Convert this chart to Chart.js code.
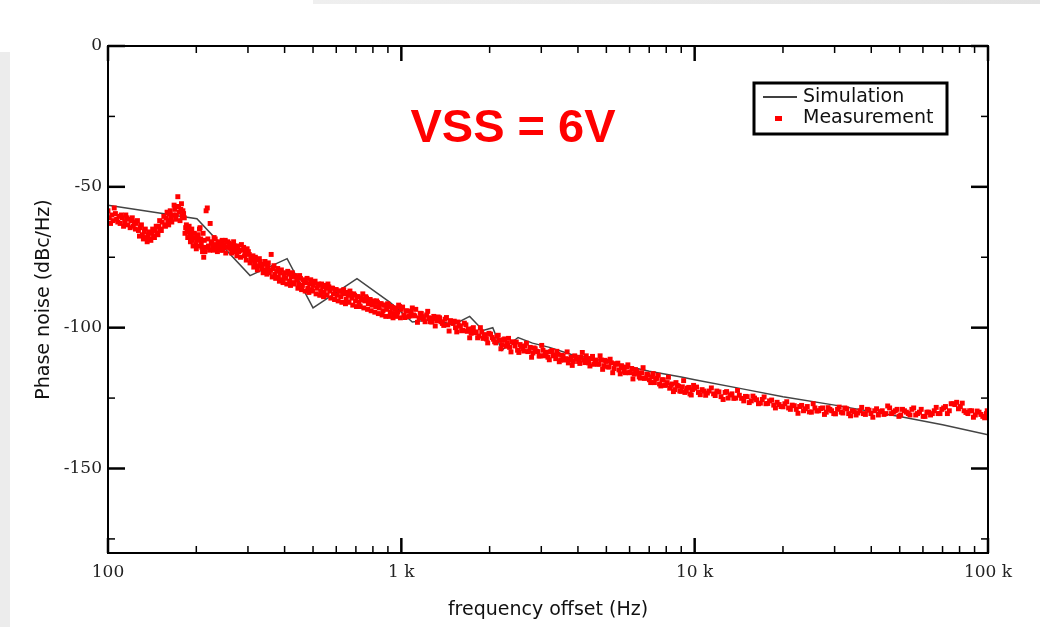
<!DOCTYPE html>
<html>
<head>
<meta charset="utf-8">
<script src="https://cdn.jsdelivr.net/npm/chart.js@4.4.1/dist/chart.umd.min.js"></script>
<style>
    html, body { margin: 0; padding: 0; background: #fff; overflow: hidden; }
    #wrap { position: relative; width: 1040px; height: 627px; }
    .stripLeft { position: absolute; left: 0; top: 52px; width: 10px; height: 575px; background: #ececec; }
    .stripTop { position: absolute; left: 313px; top: 0; width: 727px; height: 4px; background: linear-gradient(to right, #efefef, #e3e3e3); }
    canvas { position: absolute; left: 0; top: 0; }
</style>
</head>
<body>
<div id="wrap">
    <div class="stripLeft"></div>
    <div class="stripTop"></div>
    <canvas id="noiseChart" width="1040" height="627"></canvas>
</div>
<script>
// Simulation curve (Hz, dBc/Hz)
const simFreq = [100, 201, 305, 408, 500, 706, 915, 1000, 1090, 1300, 1500, 1710, 1900, 2050, 2200,
    2500, 2800, 3200, 3800, 4500, 5500, 7000, 9000, 10000, 15000, 20000, 30000, 50000, 70000, 100000];
const simDb = [-56.5, -61.3, -81.5, -75.5, -93, -82.6, -91, -94.5, -98, -97, -99, -96, -101, -100, -108,
    -103.5, -105.5, -107, -109.5, -111, -113, -115.5, -117.5, -118.5, -122, -124.5, -127.5, -131.5, -134.5, -138];

// Measurement points (Hz, dBc/Hz), first pass
const measFreq = [
    100, 101, 103, 104, 106, 107, 109, 110, 112, 114, 115, 117, 118, 120, 122, 123, 125, 127, 129, 131,
    133, 135, 137, 139, 141, 143, 145, 147, 149, 151, 153, 156, 158, 160, 162, 164, 167, 169, 170, 172,
    173, 175, 177, 179, 180, 182, 184, 186, 188, 190, 192, 194, 196, 199, 201, 203, 205, 207, 209, 211,
    212, 214, 216, 218, 220, 223, 225, 228, 230, 233, 235, 237, 240, 243, 246, 249, 251, 254, 258, 262,
    266, 270, 273, 277, 281, 285, 290, 294, 298, 303, 307, 312, 316, 320, 325, 330, 335, 340, 345, 350,
    355, 360, 365, 370, 376, 381, 387, 392, 398, 404, 410, 416, 422, 428, 434, 440, 447, 453, 460, 467,
    473, 480, 487, 494, 501, 508, 516, 523, 531, 539, 546, 554, 562, 570, 579, 587, 596, 604, 613, 622,
    631, 640, 649, 659, 668, 678, 688, 698, 708, 718, 729, 739, 750, 761, 772, 783, 794, 806, 818, 829,
    841, 854, 866, 879, 891, 904, 917, 930, 944, 958, 972, 986,
    1000, 1020, 1040, 1060, 1080, 1100, 1120, 1150, 1170, 1190, 1220, 1240, 1270, 1290, 1320, 1350, 1380, 1410, 1440, 1470,
    1500, 1530, 1560, 1590, 1620, 1660, 1690, 1730, 1760, 1800, 1840, 1880, 1920, 1950, 1990, 2040, 2080, 2120, 2160, 2210,
    2250, 2300, 2340, 2390, 2440, 2490, 2540, 2590, 2640, 2700, 2750, 2810, 2860, 2920, 2980, 3040, 3100, 3160, 3230, 3290,
    3360, 3420, 3490, 3560, 3640, 3710, 3790, 3860, 3940, 4020, 4100, 4180, 4270, 4350, 4440, 4530, 4620, 4710, 4810, 4900,
    5000, 5100, 5200, 5310, 5420, 5520, 5630, 5750, 5860, 5980, 6100, 6220, 6350, 6470, 6600, 6740, 6870, 7010, 7150, 7290,
    7440, 7590, 7740, 7900, 8060, 8220, 8380, 8550, 8720, 8900, 9080, 9260, 9450, 9640, 9830,
    10000, 10300, 10600, 10900, 11200, 11600, 11900, 12300, 12700, 13000, 13400, 13800, 14200, 14700, 15100, 15600, 16000, 16500, 17000, 17500,
    18000, 18600, 19100, 19700, 20300, 20900, 21500, 22200, 22800, 23500, 24200, 25000, 25700, 26500, 27300, 28100, 28900, 29800, 30700, 31600,
    32500, 33500, 34500, 35500, 36600, 37600, 38800, 39900, 41100, 42300, 43600, 44900, 46200, 47600, 49000, 50400, 51900, 53500, 55000, 56700,
    58400, 60100, 61900, 63700, 65600, 67600, 69600, 71600, 73800, 76000, 78200, 80500, 82900, 85400, 87900, 90500, 93200, 96000, 98800, 100000
];
const measDb = [
    -58.5, -61, -60, -62, -59.5, -61.5, -60.5, -63, -61, -62.5, -60, -63.5, -61.5, -62, -64, -62.5, -63, -65.5, -64.5, -67,
    -66, -68, -67, -68.5, -66.5, -67.5, -65.5, -66.5, -64, -65, -62.5, -63.5, -61, -62, -59.5, -61, -60, -58, -61.5, -57,
    -53.5, -59, -58, -60.5, -58.5, -61, -64.5, -66, -65, -67.5, -66.5, -69, -68, -70.5, -69, -67, -65, -68.5, -71.5, -66.5,
    -75, -73, -58.5, -57.5, -71, -63, -69.5, -71, -68, -70.5, -72, -69.5, -71.5, -70, -72.5, -70.5, -69, -71.5, -70, -72,
    -70.5, -71, -73, -71, -72.5, -70.5, -71.5, -73.5, -72, -74, -75.5, -74.5, -77, -76, -78, -76.5, -79, -77.5, -79.5, -78,
    -80.5, -74, -79, -81, -80, -82, -80.5, -83, -81.5, -82.5, -80, -83.5, -82, -84, -81.5, -83, -84.5, -82.5, -85, -83.5,
    -84, -86, -84.5, -86.5, -85, -83.5, -86, -84.5, -87, -85.5, -87.5, -86, -84.5, -87, -86, -88, -86.5, -88.5, -87, -89,
    -87.5, -88, -90, -88.5, -87, -89.5, -88, -90.5, -89, -91, -89.5, -88, -90.5, -89.5, -91.5, -90, -92, -90.5, -92.5, -91,
    -93, -91.5, -94, -92, -93.5, -92, -94.5, -93, -95, -93, -94.5, -92.5,
    -93.5, -95.5, -94, -96, -94.5, -95.5, -93.5, -96.5, -95, -97, -95.5, -96.5, -98, -96, -97.5, -96.5, -98.5, -97, -99, -97.5,
    -98.5, -100, -98, -99.5, -101, -99, -100.5, -102, -100, -101.5, -103, -101.5, -102.5, -104, -102, -103.5, -105, -103, -104.5, -106,
    -104, -105.5, -107, -105, -106.5, -108, -106, -107.5, -106.5, -108.5, -107, -109, -107.5, -108.5, -110, -108, -109.5, -110.5, -108.5, -110,
    -111, -109.5, -111.5, -110, -111, -112.5, -110.5, -112, -110.5, -112, -110.5, -111.5, -110, -112.5, -111, -113, -111.5, -113, -111.5, -113.5,
    -112, -114, -112.5, -114.5, -113, -115, -113.5, -115.5, -114, -116, -114.5, -116.5, -115.5, -117.5, -116, -118, -116.5, -118.5, -117.5, -119.5,
    -118, -120, -118.5, -120.5, -119.5, -121.5, -120, -122, -120.5, -122.5, -121, -123, -121.5, -123.5, -122,
    -121.5, -123, -122, -124, -122.5, -123.5, -122.5, -124.5, -123, -125, -123.5, -125, -124, -126, -124.5, -126, -125, -127, -125.5, -127,
    -126, -127.5, -126.5, -128, -127, -128.5, -127.5, -129, -128, -129.5, -128, -130, -128.5, -129.5, -128.5, -130, -129, -130.5, -129, -130,
    -128.5, -130.5, -129.5, -131, -129.5, -130.5, -129, -130.5, -129.5, -131, -129.5, -130.5, -128.5, -130, -129, -131, -129.5, -130.5, -129, -131,
    -130, -131.5, -130, -131, -129.5, -130.5, -129, -128, -129.5, -127, -126.5, -128, -129.5, -130.5, -129.5, -131, -130, -131.5, -130.5, -131.5
];

// Measurement points, second pass (fills the noisy band)
const measFreqB = [
    102, 105, 108, 111, 113, 116, 119, 121, 124, 126, 128, 130, 132, 134, 136, 138, 140, 142, 144, 146,
    148, 150, 152, 155, 157, 159, 161, 163, 165, 168, 171, 174, 176, 178, 181, 183, 185, 187, 189, 191,
    193, 195, 197, 200, 202, 204, 206, 208, 210, 213, 215, 219, 222, 226, 229, 232, 236, 239, 242, 245,
    248, 252, 256, 260, 264, 268, 272, 275, 279, 283, 288, 292, 296, 301, 305, 310, 314, 318, 323, 328,
    332, 338, 343, 348, 352, 358, 363, 368, 373, 379, 384, 390, 395, 401, 407, 413, 419, 425, 431, 437,
    444, 450, 457, 463, 470, 477, 484, 491, 498, 505, 512, 520, 527, 535, 543, 550, 558, 566, 575, 583,
    592, 600, 609, 618, 627, 636, 645, 654, 663, 673, 683, 693, 703, 713, 724, 734, 745, 756, 767, 778,
    789, 800, 812, 823, 835, 847, 860, 872, 885, 898, 911, 924, 937, 951, 965, 979, 993,
    1010, 1030, 1050, 1070, 1090, 1110, 1135, 1160, 1180, 1205, 1230, 1255, 1280, 1305, 1335, 1365, 1395, 1425, 1455, 1485,
    1515, 1545, 1575, 1605, 1640, 1675, 1710, 1745, 1780, 1820, 1860, 1900, 1935, 1970, 2015, 2060, 2100, 2140, 2185, 2230,
    2275, 2320, 2365, 2415, 2465, 2515, 2565, 2615, 2670, 2725, 2780, 2835, 2890, 2950, 3010, 3070, 3130, 3195, 3260, 3325,
    3390, 3455, 3525, 3600, 3675, 3750, 3825, 3900, 3980, 4060, 4140, 4225, 4310, 4395, 4485, 4575, 4665, 4760, 4855, 4950,
    5050, 5150, 5255, 5365, 5470, 5575, 5690, 5805, 5920, 6040, 6160, 6285, 6410, 6535, 6670, 6805, 6940, 7080, 7220, 7365,
    7515, 7665, 7820, 7980, 8140, 8300, 8465, 8635, 8810, 8990, 9170, 9355, 9545, 9735, 9915,
    10150, 10450, 10750, 11050, 11400, 11750, 12100, 12500, 12850, 13200, 13600, 14000, 14450, 14900, 15350, 15800, 16250, 16750, 17250, 17750,
    18300, 18850, 19400, 20000, 20600, 21200, 21850, 22500, 23150, 23850, 24600, 25350, 26100, 26900, 27700, 28500, 29300, 30200, 31100, 32000,
    33000, 34000, 35000, 36000, 37100, 38200, 39300, 40500, 41700, 42900, 44200, 45500, 46900, 48300, 49700, 51100, 52700, 54200, 55800, 57500,
    59200, 61000, 62800, 64600, 66600, 68600, 70600, 72700, 74900, 77100, 79300, 81700, 84100, 86600, 89200, 91800, 94600, 97400, 99400
];
const measDbB = [
    -63, -57.5, -62.5, -60, -64, -61, -64.5, -61, -65, -62, -67.5, -63.5, -68.5, -65, -69.5, -66, -69, -65, -68, -64,
    -67, -62, -65.5, -60.5, -64, -59, -63.5, -58.5, -62.5, -56.5, -60, -57, -62, -56, -59.5, -66.5, -63.5, -68, -64, -69.5,
    -65, -71, -66.5, -72, -67.5, -71, -64.5, -70, -73, -69, -71.5, -68.5, -72.5, -70, -72.5, -68.5, -73, -70, -72.5, -69,
    -71, -73.5, -69.5, -71.5, -73.5, -69.5, -72.5, -74.5, -73, -75, -72.5, -74.5, -76, -73, -77, -76, -78.5, -75, -79.5, -75.5,
    -78, -80.5, -76.5, -81, -77, -79.5, -82, -78, -82.5, -79, -83.5, -79.5, -84, -80.5, -84.5, -81, -85, -80.5, -84.5, -82,
    -86, -81.5, -86.5, -83, -87, -82.5, -87.5, -83, -87, -84, -88, -85, -88.5, -84.5, -89, -85, -88.5, -85.5, -89.5, -86,
    -90, -86.5, -90.5, -87, -91, -86.5, -91.5, -87.5, -91, -88, -92, -88.5, -92.5, -89, -92.5, -90, -93, -89, -93.5, -90.5,
    -94, -91, -94.5, -90.5, -95, -91.5, -95.5, -92, -96, -91.5, -96, -92.5, -96.5, -93.5, -96, -92, -96.5,
    -92.7, -96.4, -94.1, -95.8, -93, -95.8, -98.1, -94.9, -96.1, -97.9, -94.2, -97.9, -96.7, -99.4, -96.2, -97.9, -99.2, -96.4, -101.2, -97.9,
    -97.7, -101.5, -99.3, -101.1, -98.4, -101.3, -103.6, -100.4, -101.8, -103.6, -100, -103.8, -102.6, -105.4, -102.3, -104.1, -105.4, -102.7, -107.5, -104.3,
    -106.6, -103.8, -108.6, -105.3, -105.1, -108.8, -106.6, -108.3, -105.5, -108.3, -110.5, -107.2, -108.4, -110.1, -106.3, -110, -108.7, -111.4, -108.1, -109.7,
    -108.4, -112.1, -109.8, -111.5, -108.6, -111.3, -113.4, -110, -111.1, -112.7, -108.8, -112.4, -111, -113.6, -110.2, -111.8, -112.9, -110, -114.8, -111.6,
    -113.9, -111.2, -116, -112.8, -112.6, -116.4, -114.2, -116, -113.2, -115.9, -118.2, -114.9, -116.2, -117.9, -114.2, -117.9, -116.7, -119.5, -116.3, -118.1,
    -116.9, -120.7, -118.5, -120.3, -117.6, -120.4, -122.7, -119.5, -120.8, -122.6, -118.8, -122.5, -121.2, -123.9, -120.5,
    -121.1, -123.8, -122.5, -123.2, -121.4, -124.1, -122.8, -125.5, -122.7, -123.9, -125.1, -122.3, -125.1, -124.4, -126.6, -124.3, -125.6, -126.8, -124.6, -126.9,
    -125.7, -128.5, -127.3, -128.1, -126.3, -129, -127.7, -130.4, -127.6, -128.8, -129.9, -127, -129.6, -128.7, -130.8, -128.4, -129.5, -130.6, -128.2, -130.3,
    -128.8, -131.3, -129.8, -130.3, -128.3, -130.8, -129.3, -131.8, -128.8, -129.8, -130.8, -127.8, -130.5, -129.5, -131.5, -129, -130, -131, -128.5, -130.5,
    -129, -131.5, -130, -130.5, -128.3, -130.5, -128.5, -130.5, -127, -127.3, -128.8, -126.8, -130.1, -129.5, -131.8, -129.6, -130.8, -132, -129.5
];

const yTicks = [-150, -100, -50, 0];
const yMinor = [-175, -125, -75, -25];
const xTicks = [100, 1000, 10000, 100000];
const xTickLabels = ['100', '1 k', '10 k', '100 k'];
const xMinor = [200, 300, 400, 500, 600, 700, 800, 900, 2000, 3000, 4000, 5000, 6000, 7000, 8000, 9000,
    20000, 30000, 40000, 50000, 60000, 70000, 80000, 90000];

// Frame with inward ticks, legend box and the VSS label
const framePlugin = {
    id: 'framePlugin',
    afterDraw(chart) {
        const { ctx, chartArea: a, scales: { x, y } } = chart;
        ctx.save();
        ctx.strokeStyle = '#000';

        function tick(px, py, dx, dy, w) {
            ctx.lineWidth = w;
            ctx.beginPath();
            ctx.moveTo(px, py);
            ctx.lineTo(px + dx, py + dy);
            ctx.stroke();
        }
        xMinor.forEach(v => {
            const px = x.getPixelForValue(v);
            tick(px, a.bottom, 0, -7, 1.5);
            tick(px, a.top, 0, 7, 1.5);
        });
        xTicks.forEach(v => {
            const px = x.getPixelForValue(v);
            tick(px, a.bottom, 0, -15, 2.5);
            tick(px, a.top, 0, 15, 2.5);
        });
        yMinor.forEach(v => {
            const py = y.getPixelForValue(v);
            tick(a.left, py, 7, 0, 1.5);
            tick(a.right, py, -7, 0, 1.5);
        });
        yTicks.forEach(v => {
            const py = y.getPixelForValue(v);
            tick(a.left, py, 17, 0, 2.5);
            tick(a.right, py, -17, 0, 2.5);
        });

        ctx.lineWidth = 2;
        ctx.strokeRect(a.left, a.top, a.right - a.left, a.bottom - a.top);

        // legend
        ctx.fillStyle = '#fff';
        ctx.fillRect(754, 83, 193, 51);
        ctx.lineWidth = 3;
        ctx.strokeRect(754, 83, 193, 51);
        ctx.lineWidth = 1.5;
        ctx.beginPath();
        ctx.moveTo(763, 97);
        ctx.lineTo(797, 97);
        ctx.stroke();
        ctx.fillStyle = '#ff0000';
        ctx.fillRect(775, 116, 7, 5);
        ctx.fillStyle = '#111';
        ctx.font = '19px "DejaVu Sans"';
        ctx.textBaseline = 'middle';
        ctx.textAlign = 'left';
        ctx.fillText('Simulation', 803, 97);
        ctx.fillText('Measurement', 803, 118);

        ctx.fillStyle = '#ff0000';
        ctx.font = 'bold 47px "Liberation Sans"';
        ctx.textAlign = 'center';
        ctx.textBaseline = 'alphabetic';
        ctx.fillText('VSS = 6V', 513, 142);
        ctx.restore();
    }
};

const config = {
    type: 'scatter',
    data: {
        datasets: [{
            label: 'Measurement',
            data: measFreq.map((f, i) => ({ x: f, y: measDb[i] }))
                .concat(measFreqB.map((f, i) => ({ x: f, y: measDbB[i] }))),
            pointStyle: 'rect',
            pointRadius: 3.5,
            pointBorderWidth: 0,
            backgroundColor: '#ff0000',
            borderColor: '#ff0000',
            showLine: false
        }, {
            label: 'Simulation',
            data: simFreq.map((f, i) => ({ x: f, y: simDb[i] })),
            showLine: true,
            borderColor: '#444',
            borderWidth: 1.5,
            pointRadius: 0,
            tension: 0
        }]
    },
    options: {
        responsive: false,
        animation: false,
        layout: { padding: { top: 46, right: 52, left: 0, bottom: 0 } },
        plugins: {
            legend: { display: false },
            tooltip: { enabled: false }
        },
        scales: {
            x: {
                type: 'logarithmic',
                min: 100,
                max: 100000,
                afterBuildTicks: s => { s.ticks = xTicks.map(v => ({ value: v })); },
                afterFit: s => { s.height = 74; },
                ticks: {
                    callback: v => xTickLabels[xTicks.indexOf(v)],
                    font: { family: 'DejaVu Serif', size: 17 },
                    color: '#222',
                    padding: 9,
                    maxRotation: 0,
                    autoSkip: false
                },
                grid: { display: false, drawTicks: false },
                border: { display: false },
                title: {
                    display: true,
                    text: 'frequency offset (Hz)',
                    font: { family: 'DejaVu Sans', size: 19 },
                    color: '#111',
                    padding: { top: 0, bottom: 6 }
                }
            },
            y: {
                min: -180,
                max: 0,
                afterBuildTicks: s => { s.ticks = yTicks.map(v => ({ value: v })); },
                afterFit: s => { s.width = 108; },
                ticks: {
                    font: { family: 'DejaVu Serif', size: 17 },
                    color: '#222',
                    padding: 6
                },
                grid: { display: false, drawTicks: false },
                border: { display: false },
                title: {
                    display: true,
                    text: 'Phase noise (dBc/Hz)',
                    font: { family: 'DejaVu Sans', size: 19 },
                    color: '#111',
                    padding: { top: 33, bottom: 0 }
                }
            }
        }
    },
    plugins: [framePlugin]
};

const noiseChart = new Chart(document.getElementById('noiseChart'), config);
</script>
</body>
</html>
